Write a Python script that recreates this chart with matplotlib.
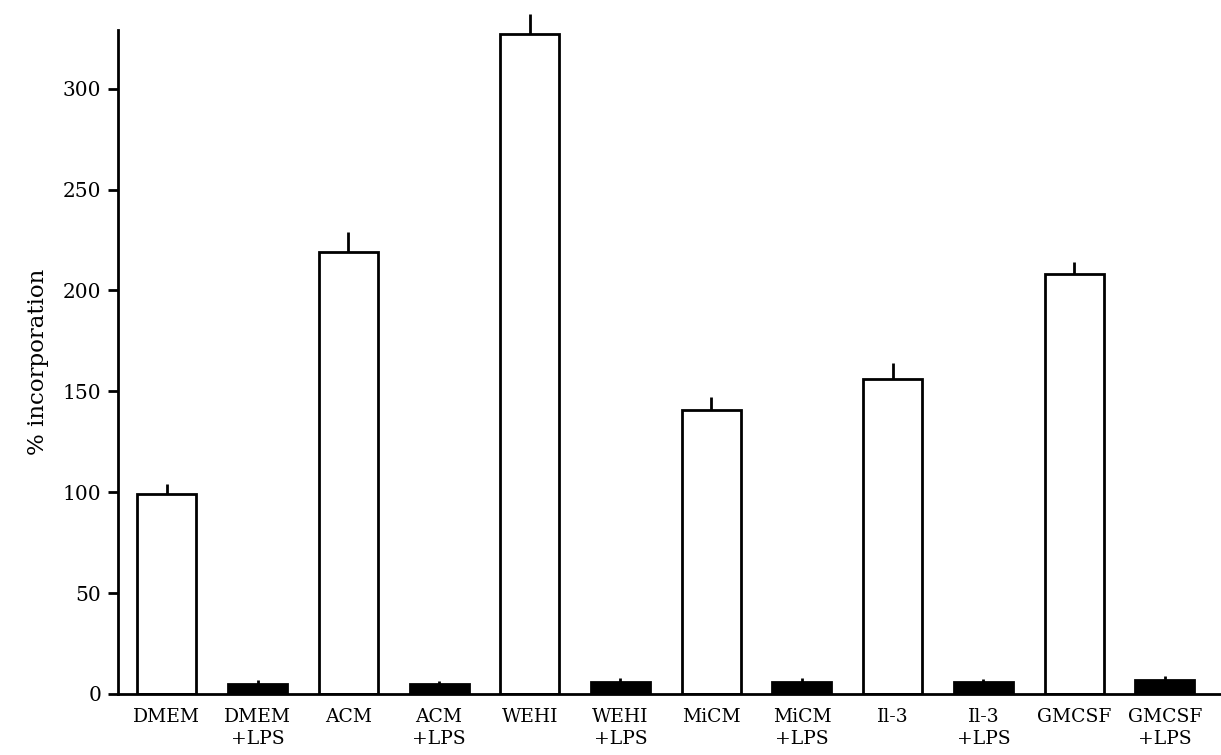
import numpy as np
import matplotlib
matplotlib.use("Agg")
import matplotlib.pyplot as plt

# %% Data

labels = ['DMEM', 'DMEM\n+LPS', 'ACM', 'ACM\n+LPS', 'WEHI', 'WEHI\n+LPS',
          'MiCM', 'MiCM\n+LPS', 'Il-3', 'Il-3\n+LPS', 'GMCSF', 'GMCSF\n+LPS']
values = [99, 5, 219, 5, 327, 6, 141, 6, 156, 6, 208, 7]
errors = [5, 2, 10, 1.5, 10, 2, 6, 2, 8, 1.5, 6, 2]
lps = [False, True] * 6

# %% Plot

plt.rcParams['font.family'] = ['DejaVu Serif']

fig = plt.figure(figsize=(12.21, 7.55), dpi=100)
ax = fig.add_axes([0.0966, 0.0808, 0.9034, 0.8792])

x = np.arange(len(values))
colors = ['black' if l else 'white' for l in lps]
ax.bar(x, values, width=0.65, color=colors, edgecolor='black', linewidth=2, zorder=2)
eb = ax.errorbar(x, values, yerr=[np.zeros(len(errors)), errors], fmt='none',
                 ecolor='black', elinewidth=2, capsize=0, zorder=3)
for coll in eb.lines[2]:
    coll.set_clip_on(False)

ax.set_xlim(-0.54, 11.62)
ax.set_ylim(0, 329)
ax.set_yticks([0, 50, 100, 150, 200, 250, 300])
ax.set_xticks(x)
ax.set_xticklabels(labels, fontsize=13.5, linespacing=1.3)
ax.tick_params(axis='x', length=0, pad=10)
ax.tick_params(axis='y', direction='out', length=7, width=2, labelsize=14.5, pad=5)
ax.spines['top'].set_visible(False)
ax.spines['right'].set_visible(False)
ax.spines['left'].set_linewidth(2)
ax.spines['bottom'].set_linewidth(2)
ax.set_ylabel('% incorporation', fontsize=16.5, labelpad=10)

plt.savefig('out.png', dpi=100)
plt.close()
